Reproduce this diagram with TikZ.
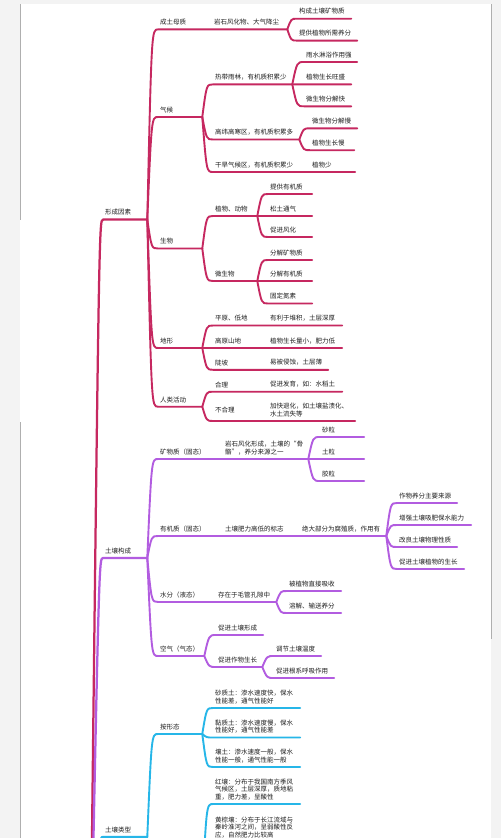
\documentclass[tikz,border=0pt]{standalone}
\usepackage{fontspec}
\setmainfont{Noto Sans CJK SC}
\usetikzlibrary{calc}
\definecolor{mapred}{RGB}{198,40,96}
\definecolor{mappurple}{RGB}{178,92,224}
\definecolor{mapcyan}{RGB}{38,182,232}
\definecolor{textgray}{RGB}{30,30,30}
\definecolor{pagegray}{RGB}{243,243,243}
\definecolor{edgegray}{RGB}{175,175,175}

\begin{document}
\begin{tikzpicture}[
  x=0.05cm, y=-0.05cm,
  font={\fontsize{9.25}{10.7}\selectfont},
  tp/.style={anchor=south west, inner xsep=0.1cm, inner ysep=5.7pt, align=left, text=textgray},
  wd/.code={\pgfmathsetmacro\tpw{#1*0.05-0.2}\tikzset{text width=\tpw cm}},
  two/.style={minimum height=30.5pt},
  branch/.style={to path={.. controls ($(\tikztostart |- \tikztotarget)!#1!(\tikztotarget)$) and ($(\tikztostart |- \tikztotarget)!#1!(\tikztotarget)$) .. (\tikztotarget) \tikztonodes}},
  branch/.default=0.4,
  ln/.style={line width=2.7pt, line cap=round, line join=round},
  trunk/.style={line width=3.2pt},
  cr/.style={ln, draw=mapred},
  pu/.style={ln, draw=mappurple},
  cy/.style={ln, draw=mapcyan},
]
\useasboundingbox (0,0) rectangle (501,838);
\clip (0,0) rectangle (501,838);
\fill[pagegray] (0,0) rectangle (501,838);
\fill[white] (20,4) rectangle (491,838);
\draw[edgegray, line width=0.6pt] (20,4) -- (20,220) (20,422) -- (20,838) (491,4) -- (491,639);
\coordinate (root) at (90,1010);
\coordinate (regionfork) at (202,900);
% ================= formation factors =================
\node[tp, wd=44] (factor) at (103,219.6) {形成因素};
\node[tp, wd=54] (parent) at (158,29.4) {成土母质};
\node[tp, wd=75] (rock) at (212,29.4) {岩石风化物、大气降尘};
\node[tp, wd=54] (rock1) at (297,18.7) {构成土壤矿物质};
\node[tp, wd=60] (rock2) at (297,40.6) {提供植物所需养分};
\node[tp, wd=44] (climate) at (158,117) {气候};
\node[tp, wd=79] (tropic) at (213,84.4) {热带雨林，有机质积累少};
\node[tp, wd=53] (tropic1) at (304,62) {雨水淋浴作用强};
\node[tp, wd=47] (tropic2) at (304,84.4) {植物生长旺盛};
\node[tp, wd=47] (tropic3) at (304,106.3) {微生物分解快};
\node[tp, wd=86] (cold) at (213,139.5) {高纬高寒区，有机质积累多};
\node[tp, wd=47] (cold1) at (310,128.3) {微生物分解慢};
\node[tp, wd=44] (cold2) at (310,150.2) {植物生长慢};
\node[tp, wd=97] (arid) at (213,172) {干旱气候区，有机质积累少};
\node[tp, wd=45] (arid1) at (310,172) {植物少};
\node[tp, wd=44] (bio) at (158,248.5) {生物};
\node[tp, wd=44] (plant) at (213,216) {植物、动物};
\node[tp, wd=44] (plant1) at (268,194) {提供有机质};
\node[tp, wd=44] (plant2) at (268,216) {松土通气};
\node[tp, wd=44] (plant3) at (268,237) {促进风化};
\node[tp, wd=44] (micro) at (213,281) {微生物};
\node[tp, wd=44] (micro1) at (268,260) {分解矿物质};
\node[tp, wd=44] (micro2) at (268,281) {分解有机质};
\node[tp, wd=44] (micro3) at (268,303.5) {固定氮素};
\node[tp, wd=44] (relief) at (158,348) {地形};
\node[tp, wd=55] (plain) at (213,325.5) {平原、低地};
\node[tp, wd=74] (plain1) at (268,325.5) {有利于堆积，土层深厚};
\node[tp, wd=55] (upland) at (213,348) {高原山地};
\node[tp, wd=74] (upland1) at (268,348) {植物生长量小，肥力低};
\node[tp, wd=55] (slope) at (213,369.8) {陡坡};
\node[tp, wd=60] (slope1) at (268,369.8) {易被侵蚀，土层薄};
\node[tp, wd=44] (human) at (158,406.7) {人类活动};
\node[tp, wd=55] (good) at (213,391.7) {合理};
\node[tp, wd=74] (good1) at (268,391.7) {促进发育，如：水稻土};
\node[tp, wd=55, two] (bad) at (213,421) {不合理};
\node[tp, wd=87] (bad1) at (268,421) {加快退化，如土壤盐渍化、\\水土流失等};
\draw[cr, trunk] (root) to[branch=0.7] (factor.south west) -- (factor.south east);
\draw[cr] (factor.south east) to[branch] (parent.south west) -- (rock.south east);
\draw[cr] (rock.south east) to[branch] (rock1.south west) -- (rock1.south east);
\draw[cr] (rock.south east) to[branch] (rock2.south west) -- (rock2.south east);
\draw[cr] (factor.south east) to[branch] (climate.south west) -- (climate.south east);
\draw[cr] (climate.south east) to[branch] (tropic.south west) -- (tropic.south east);
\draw[cr] (tropic.south east) to[branch] (tropic1.south west) -- (tropic1.south east);
\draw[cr] (tropic.south east) to[branch] (tropic2.south west) -- (tropic2.south east);
\draw[cr] (tropic.south east) to[branch] (tropic3.south west) -- (tropic3.south east);
\draw[cr] (climate.south east) to[branch] (cold.south west) -- (cold.south east);
\draw[cr] (cold.south east) to[branch] (cold1.south west) -- (cold1.south east);
\draw[cr] (cold.south east) to[branch] (cold2.south west) -- (cold2.south east);
\draw[cr] (climate.south east) to[branch] (arid.south west) -- (arid1.south east);
\draw[cr] (factor.south east) to[branch] (bio.south west) -- (bio.south east);
\draw[cr] (bio.south east) to[branch] (plant.south west) -- (plant.south east);
\draw[cr] (plant.south east) to[branch] (plant1.south west) -- (plant1.south east);
\draw[cr] (plant.south east) to[branch] (plant2.south west) -- (plant2.south east);
\draw[cr] (plant.south east) to[branch] (plant3.south west) -- (plant3.south east);
\draw[cr] (bio.south east) to[branch] (micro.south west) -- (micro.south east);
\draw[cr] (micro.south east) to[branch] (micro1.south west) -- (micro1.south east);
\draw[cr] (micro.south east) to[branch] (micro2.south west) -- (micro2.south east);
\draw[cr] (micro.south east) to[branch] (micro3.south west) -- (micro3.south east);
\draw[cr] (factor.south east) to[branch] (relief.south west) -- (relief.south east);
\draw[cr] (relief.south east) to[branch] (plain.south west) -- (plain1.south east);
\draw[cr] (relief.south east) to[branch] (upland.south west) -- (upland1.south east);
\draw[cr] (relief.south east) to[branch] (slope.south west) -- (slope1.south east);
\draw[cr] (factor.south east) to[branch] (human.south west) -- (human.south east);
\draw[cr] (human.south east) to[branch] (good.south west) -- (good1.south east);
\draw[cr] (human.south east) to[branch] (bad.south west) -- (bad1.south east);
% ================= soil composition =================
\node[tp, wd=44] (comp) at (103,558) {土壤构成};
\node[tp, wd=65] (mineral) at (158,459) {矿物质（固态）};
\node[tp, wd=85] (skeleton) at (223,459) {岩石风化形成，土壤的“骨\\骼”，养分来源之一};
\node[tp, wd=44] (sand) at (320,437) {砂粒};
\node[tp, wd=44] (silt) at (320,459) {土粒};
\node[tp, wd=44] (colloid) at (320,481) {胶粒};
\node[tp, wd=65] (organic) at (158,536) {有机质（固态）};
\node[tp, wd=77] (fertility) at (223,536) {土壤肥力高低的标志};
\node[tp, wd=86] (humus) at (300,536) {绝大部分为腐殖质，作用有};
\node[tp, wd=60] (humus1) at (397,503) {作物养分主要来源};
\node[tp, wd=74] (humus2) at (397,525) {增强土壤吸肥保水能力};
\node[tp, wd=60] (humus3) at (397,547) {改良土壤物理性质};
\node[tp, wd=67] (humus4) at (397,569) {促进土壤植物的生长};
\node[tp, wd=58] (water) at (158,602) {水分（液态）};
\node[tp, wd=60] (pore) at (216,602) {存在于毛管孔隙中};
\node[tp, wd=54] (pore1) at (287,591) {被植物直接吸收};
\node[tp, wd=54] (pore2) at (287,613) {溶解、输送养分};
\node[tp, wd=46] (air) at (158,656) {空气（气态）};
\node[tp, wd=47] (air1) at (216,635) {促进土壤形成};
\node[tp, wd=46] (air2) at (216,667) {促进作物生长};
\node[tp, wd=47] (air21) at (274,656) {调节土壤温度};
\node[tp, wd=60] (air22) at (274,678) {促进根系呼吸作用};
\draw[pu, trunk] (root) to[branch=0.7] (comp.south west) -- (comp.south east);
\draw[pu] (comp.south east) to[branch] (mineral.south west) -- (skeleton.south east);
\draw[pu] (skeleton.south east) to[branch] (sand.south west) -- (sand.south east);
\draw[pu] (skeleton.south east) to[branch] (silt.south west) -- (silt.south east);
\draw[pu] (skeleton.south east) to[branch] (colloid.south west) -- (colloid.south east);
\draw[pu] (comp.south east) to[branch] (organic.south west) -- (humus.south east);
\draw[pu] (humus.south east) to[branch] (humus1.south west) -- (humus1.south east);
\draw[pu] (humus.south east) to[branch] (humus2.south west) -- (humus2.south east);
\draw[pu] (humus.south east) to[branch] (humus3.south west) -- (humus3.south east);
\draw[pu] (humus.south east) to[branch] (humus4.south west) -- (humus4.south east);
\draw[pu] (comp.south east) to[branch] (water.south west) -- (pore.south east);
\draw[pu] (pore.south east) to[branch] (pore1.south west) -- (pore1.south east);
\draw[pu] (pore.south east) to[branch] (pore2.south west) -- (pore2.south east);
\draw[pu] (comp.south east) to[branch] (air.south west) -- (air.south east);
\draw[pu] (air.south east) to[branch] (air1.south west) -- (air1.south east);
\draw[pu] (air.south east) to[branch] (air2.south west) -- (air2.south east);
\draw[pu] (air2.south east) to[branch] (air21.south west) -- (air21.south east);
\draw[pu] (air2.south east) to[branch] (air22.south west) -- (air22.south east);
% ================= soil types =================
\node[tp, wd=44] (type) at (103,837) {土壤类型};
\node[tp, wd=44] (form) at (158,734) {按形态};
\node[tp, wd=87] (sandy) at (213,708) {砂质土：渗水速度快，保水\\性能差，通气性能好};
\node[tp, wd=87] (clay) at (213,737.5) {黏质土：渗水速度慢，保水\\性能好，通气性能差};
\node[tp, wd=87] (loam) at (213,767) {壤土：渗水速度一般，保水\\性能一般，通气性能一般};
\node[tp, wd=87] (red) at (213,804) {红壤：分布于我国南方季风\\气候区，土层深厚，质地粘\\重，肥力差，呈酸性};
\node[tp, wd=87] (yellow) at (213,842) {黄棕壤：分布于长江流域与\\秦岭淮河之间，呈弱酸性反\\应，自然肥力比较高};
\draw[cy, trunk] (root) to[branch=0.7] (type.south west) -- (type.south east);
\draw[cy] (type.south east) to[branch] (form.south west) -- (form.south east);
\draw[cy] (form.south east) to[branch] (sandy.south west) -- (sandy.south east);
\draw[cy] (form.south east) to[branch] (clay.south west) -- (clay.south east);
\draw[cy] (form.south east) to[branch] (loam.south west) -- (loam.south east);
\draw[cy] (regionfork) to[branch] (red.south west) -- (red.south east);
\draw[cy] (regionfork) to[branch] (yellow.south west) -- (yellow.south east);
\end{tikzpicture}
\end{document}
